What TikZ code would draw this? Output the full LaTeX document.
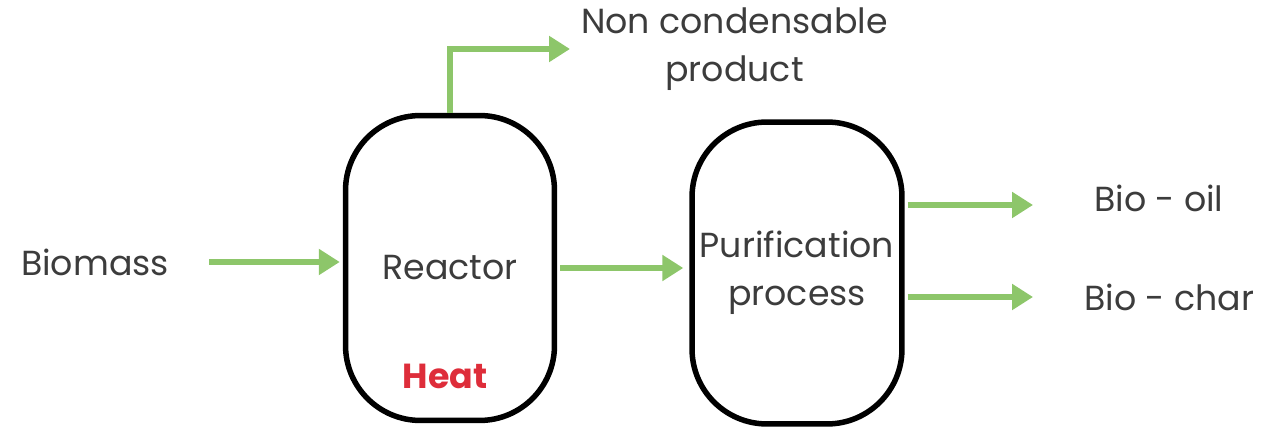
\documentclass[tikz,border=0pt]{standalone}
\usepackage{fontspec}
\setmainfont{Poppins}
\usetikzlibrary{arrows.meta}
\definecolor{flowgreen}{RGB}{141,198,106}
\definecolor{heatred}{RGB}{222,45,58}
\definecolor{txtgray}{RGB}{60,60,60}
\begin{document}
\begin{tikzpicture}[x=0.02cm, y=-0.02cm, >={Triangle[length=0.42cm,width=0.5cm]},
  vessel/.style={draw, line width=0.11cm, rounded corners=1.5cm, minimum width=4.18cm, minimum height=6.1cm},
  flow/.style={->, draw=flowgreen, line width=0.11cm},
  lbl/.style={text=txtgray, font=\fontsize{19.8}{27.5}\selectfont, align=center}]
\useasboundingbox (0,0) rectangle (1273,431);
\node[vessel, lbl](reactor) at (450,268){Reactor};
\node[vessel, lbl, minimum width=4.2cm, minimum height=6.04cm](purif) at (797,273){Purification\\process};
\node[lbl](biomass) at (95,262){Biomass};
\node[lbl, anchor=west](noncond) at (575,49){Non condensable\\product};
\node[lbl, text=heatred, font=\fontsize{19.8}{27.5}\selectfont\bfseries](heat) at (445,376){Heat};
\node[lbl, anchor=west](oil) at (1088,198){Bio - oil};
\node[lbl, anchor=west](char) at (1078,297){Bio - char};
% streams
\draw[flow, shorten <=0.68cm, shorten >=0.06cm](biomass.east)--(biomass.east -| reactor.west);
\draw[flow, shorten >=0.1cm](reactor.north)|-(noncond.west);
\draw[flow, shorten <=0.06cm, shorten >=0.12cm](reactor.east)--(reactor.east -| purif.west);
\draw[flow, shorten <=0.06cm, shorten >=1.1cm]([yshift=-0.14cm]purif.east |- oil.west)--([yshift=-0.14cm]oil.west);
\draw[flow, shorten <=0.06cm, shorten >=0.9cm](purif.east |- char.west)--(char.west);
\end{tikzpicture}
\end{document}
